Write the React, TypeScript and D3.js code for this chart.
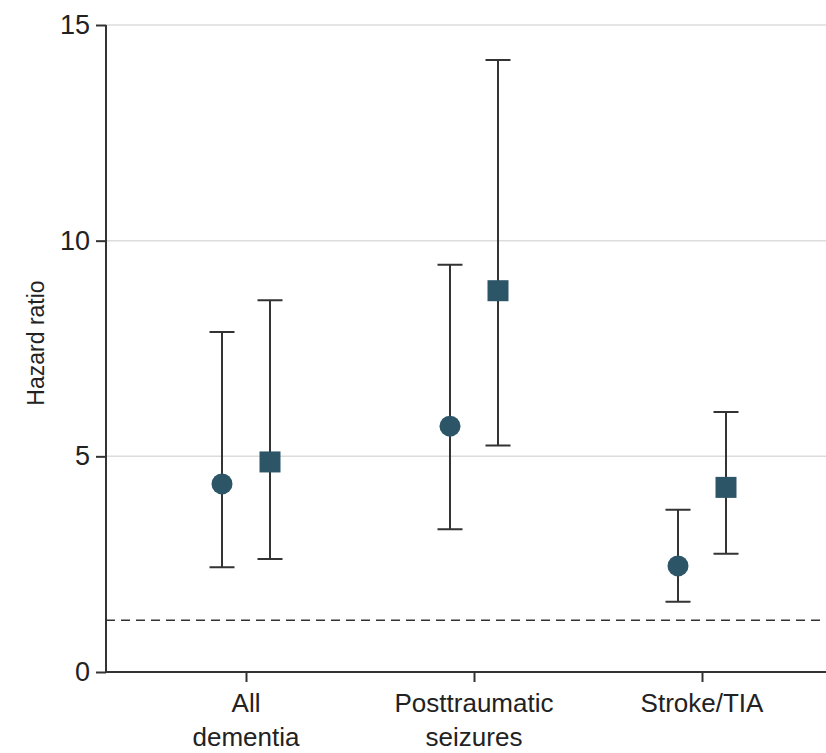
import { useEffect, useRef } from "react"
import * as d3 from "d3"

// Datos
const categorias = [["All", "dementia"], ["Posttraumatic", "seizures"], ["Stroke/TIA"]]
const circuloHR = [4.36, 5.7, 2.46]
const circuloBajo = [2.43, 3.31, 1.63]
const circuloAlto = [7.88, 9.44, 3.76]
const cuadradoHR = [4.87, 8.84, 4.28]
const cuadradoBajo = [2.62, 5.25, 2.74]
const cuadradoAlto = [8.62, 14.19, 6.03]
const ticksY = [0, 5, 10, 15]
const lineaReferencia = 1.2

export default function App() {
  const svgRef = useRef<SVGSVGElement>(null)

  useEffect(() => {
    if (!svgRef.current) return
    const svg = d3.select(svgRef.current)
    svg.selectAll("*").remove()

    const width = 826
    const height = 753
    const margin = { top: 25, right: 0, bottom: 81, left: 106 }
    const innerWidth = width - margin.left - margin.right
    const innerHeight = height - margin.top - margin.bottom
    const fuente = "'Liberation Sans', Arial, sans-serif"
    const colorMarca = "#2c5668"
    const colorLinea = "#333"

    const g = svg.append("g").attr("transform", `translate(${margin.left},${margin.top})`)

    const yScale = d3.scaleLinear().domain([0, 15]).range([innerHeight, 0])
    const xScale = d3
      .scalePoint<number>()
      .domain(categorias.map((_, i) => i))
      .range([26, 710])
      .padding(0.5)
    const desplazamiento = 24

    // Rejilla
    g.selectAll(".grid")
      .data(ticksY.filter((t) => t > 0))
      .enter()
      .append("line")
      .attr("x1", 0)
      .attr("x2", innerWidth)
      .attr("y1", (d) => yScale(d))
      .attr("y2", (d) => yScale(d))
      .attr("stroke", "#dcdcdc")
      .attr("stroke-width", 1.5)

    // Línea de referencia
    g.append("line")
      .attr("x1", 0)
      .attr("x2", innerWidth)
      .attr("y1", yScale(lineaReferencia))
      .attr("y2", yScale(lineaReferencia))
      .attr("stroke", colorLinea)
      .attr("stroke-width", 1.5)
      .attr("stroke-dasharray", "9,6")

    // Eje Y
    const yAxis = g.append("g").call(d3.axisLeft(yScale).tickValues(ticksY).tickSize(10).tickPadding(6))
    yAxis.select(".domain").attr("stroke", colorLinea).attr("stroke-width", 2).attr("d", `M0,${innerHeight}V0`)
    yAxis.selectAll(".tick line").attr("stroke", colorLinea).attr("stroke-width", 2)
    yAxis
      .selectAll(".tick text")
      .attr("fill", "#222")
      .style("font-family", fuente)
      .style("font-size", "27px")

    // Eje X
    const xAxis = g
      .append("g")
      .attr("transform", `translate(0,${innerHeight})`)
      .call(d3.axisBottom(xScale).tickSize(10).tickFormat(() => ""))
    xAxis.select(".domain").attr("stroke", colorLinea).attr("stroke-width", 2).attr("d", `M0,0H${innerWidth}`)
    xAxis.selectAll(".tick line").attr("stroke", colorLinea).attr("stroke-width", 2)

    categorias.forEach((lineas, i) => {
      const t = g
        .append("text")
        .attr("x", xScale(i)!)
        .attr("y", innerHeight + 40)
        .attr("text-anchor", "middle")
        .attr("fill", "#222")
        .style("font-family", fuente)
        .style("font-size", "26px")
      lineas.forEach((l, j) => {
        t.append("tspan").attr("x", xScale(i)!).attr("dy", j === 0 ? 0 : 34).text(l)
      })
    })

    // Título eje Y
    svg
      .append("text")
      .attr("transform", `translate(44,343) rotate(-90)`)
      .attr("text-anchor", "middle")
      .attr("fill", "#222")
      .style("font-family", fuente)
      .style("font-size", "23px")
      .text("Hazard ratio")

    // Barras de error
    const series = [
      { hr: circuloHR, bajo: circuloBajo, alto: circuloAlto, dx: -desplazamiento, forma: "circulo" },
      { hr: cuadradoHR, bajo: cuadradoBajo, alto: cuadradoAlto, dx: desplazamiento, forma: "cuadrado" },
    ]
    const capa = 12.5

    series.forEach((s) => {
      const datos = s.hr.map((v, i) => ({ i, v, lo: s.bajo[i], hi: s.alto[i] }))
      const grupo = g.append("g")
      grupo
        .selectAll(".err")
        .data(datos)
        .enter()
        .append("path")
        .attr("fill", "none")
        .attr("stroke", colorLinea)
        .attr("stroke-width", 2)
        .attr("d", (d) => {
          const x = xScale(d.i)! + s.dx
          const y0 = yScale(d.lo)
          const y1 = yScale(d.hi)
          return `M${x},${y0}V${y1}M${x - capa},${y1}H${x + capa}M${x - capa},${y0}H${x + capa}`
        })

      if (s.forma === "circulo") {
        grupo
          .selectAll(".pt")
          .data(datos)
          .enter()
          .append("circle")
          .attr("cx", (d) => xScale(d.i)! + s.dx)
          .attr("cy", (d) => yScale(d.v))
          .attr("r", 10.5)
          .attr("fill", colorMarca)
      } else {
        const lado = 21
        grupo
          .selectAll(".pt")
          .data(datos)
          .enter()
          .append("rect")
          .attr("x", (d) => xScale(d.i)! + s.dx - lado / 2)
          .attr("y", (d) => yScale(d.v) - lado / 2)
          .attr("width", lado)
          .attr("height", lado)
          .attr("fill", colorMarca)
      }
    })
  }, [])

  return (
    <div style={{ position: "absolute", left: 0, top: 0, width: 826, height: 753, background: "#fff" }}>
      <svg ref={svgRef} width={826} height={753} />
    </div>
  )
}
